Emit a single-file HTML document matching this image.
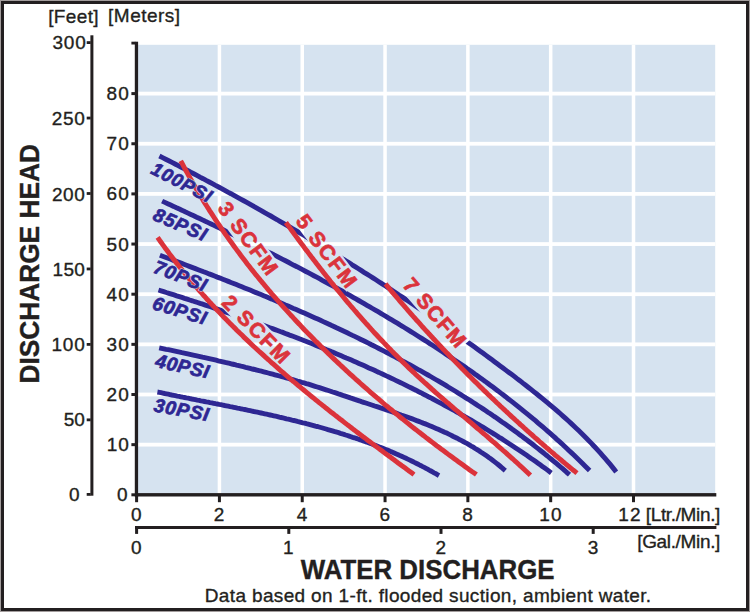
<!DOCTYPE html><html><head><meta charset="utf-8"><style>html,body{margin:0;padding:0;background:#fff}svg{display:block}text{font-family:"Liberation Sans",sans-serif}</style></head><body>
<svg width="750" height="612" viewBox="0 0 750 612">
<rect x="0" y="0" width="750" height="612" fill="#a39d9d"/>
<rect x="1" y="1" width="748" height="610" fill="#231f20"/>
<rect x="4" y="4" width="742" height="604" fill="#fff"/>
<rect x="138" y="44.8" width="577.2" height="449" fill="#d6e3f0"/>
<rect x="217.67" y="44.8" width="3.5" height="449" fill="#fff"/>
<rect x="300.48" y="44.8" width="3.5" height="449" fill="#fff"/>
<rect x="383.30" y="44.8" width="3.5" height="449" fill="#fff"/>
<rect x="466.12" y="44.8" width="3.5" height="449" fill="#fff"/>
<rect x="548.93" y="44.8" width="3.5" height="449" fill="#fff"/>
<rect x="631.75" y="44.8" width="3.5" height="449" fill="#fff"/>
<rect x="138" y="442.75" width="577.2" height="3.8" fill="#fff"/>
<rect x="138" y="392.60" width="577.2" height="3.8" fill="#fff"/>
<rect x="138" y="342.45" width="577.2" height="3.8" fill="#fff"/>
<rect x="138" y="292.30" width="577.2" height="3.8" fill="#fff"/>
<rect x="138" y="242.15" width="577.2" height="3.8" fill="#fff"/>
<rect x="138" y="192.00" width="577.2" height="3.8" fill="#fff"/>
<rect x="138" y="141.85" width="577.2" height="3.8" fill="#fff"/>
<rect x="138" y="91.70" width="577.2" height="3.8" fill="#fff"/>
<defs><mask id="ko" maskUnits="userSpaceOnUse" x="0" y="0" width="750" height="612"><rect x="0" y="0" width="750" height="612" fill="#fff"/>
<rect x="-2.0" y="-17.04" width="88.73" height="21.04" fill="#000" transform="translate(217.02,208.40) rotate(53.53)"/>
<rect x="-2.0" y="-17.04" width="89.46" height="18.54" fill="#000" transform="translate(294.89,221.24) rotate(52.82)"/>
<rect x="-2.0" y="-17.04" width="87.64" height="20.54" fill="#000" transform="translate(401.71,285.61) rotate(49.11)"/>
<rect x="-2.0" y="-17.04" width="89.80" height="19.04" fill="#000" transform="translate(220.83,303.64) rotate(45.37)"/>
</mask></defs>
<g fill="none" stroke-width="4.9" stroke-linecap="butt">
<g mask="url(#ko)">
<path d="M157.4,392.0 L159.2,392.3 L161.0,392.7 L162.8,393.1 L164.6,393.5 L166.4,393.8 L168.2,394.2 L170.0,394.6 L171.8,395.0 L173.6,395.3 L175.4,395.7 L177.2,396.1 L179.1,396.4 L180.9,396.8 L182.7,397.2 L184.5,397.5 L186.3,397.9 L188.1,398.2 L190.0,398.6 L191.8,399.0 L193.6,399.3 L195.4,399.7 L197.2,400.1 L199.1,400.4 L200.9,400.8 L202.7,401.1 L204.5,401.5 L206.3,401.9 L208.2,402.2 L210.0,402.6 L211.8,402.9 L213.6,403.3 L215.5,403.7 L217.3,404.0 L219.1,404.4 L220.9,404.7 L222.8,405.1 L224.6,405.5 L226.4,405.8 L228.2,406.2 L230.1,406.6 L231.9,406.9 L233.7,407.3 L235.5,407.7 L237.4,408.1 L239.2,408.4 L241.0,408.8 L242.9,409.2 L244.7,409.5 L246.5,409.9 L248.3,410.3 L250.2,410.7 L252.0,411.1 L253.8,411.5 L255.6,411.8 L257.4,412.2 L259.3,412.6 L261.1,413.0 L262.9,413.4 L264.7,413.8 L266.6,414.2 L268.4,414.6 L270.2,415.0 L272.0,415.4 L273.8,415.8 L275.6,416.2 L277.5,416.6 L279.3,417.1 L281.1,417.5 L282.9,417.9 L284.7,418.3 L286.5,418.8 L288.3,419.2 L290.2,419.6 L292.0,420.1 L293.8,420.5 L295.6,420.9 L297.4,421.4 L299.2,421.8 L301.0,422.3 L302.8,422.8 L304.6,423.2 L306.4,423.7 L308.2,424.1 L310.0,424.6 L311.8,425.1 L313.6,425.6 L315.4,426.1 L317.2,426.5 L319.0,427.0 L320.8,427.5 L322.6,428.0 L324.3,428.5 L326.1,429.0 L327.9,429.6 L329.7,430.1 L331.5,430.6 L333.3,431.1 L335.0,431.7 L336.8,432.2 L338.6,432.7 L340.4,433.3 L342.1,433.8 L343.9,434.4 L345.7,435.0 L347.4,435.5 L349.2,436.1 L350.9,436.7 L352.7,437.3 L354.5,437.8 L356.2,438.4 L358.0,439.0 L359.7,439.6 L361.5,440.3 L363.2,440.9 L364.9,441.5 L366.7,442.1 L368.4,442.8 L370.2,443.4 L371.9,444.0 L373.6,444.7 L375.4,445.3 L377.1,446.0 L378.8,446.7 L380.5,447.4 L382.3,448.0 L384.0,448.7 L385.7,449.4 L387.4,450.1 L389.1,450.8 L390.8,451.6 L392.5,452.3 L394.2,453.0 L395.9,453.8 L397.6,454.5 L399.3,455.3 L401.0,456.0 L402.7,456.8 L404.4,457.6 L406.0,458.3 L407.7,459.1 L409.4,459.9 L411.1,460.7 L412.7,461.5 L414.4,462.4 L416.1,463.2 L417.7,464.0 L419.4,464.9 L421.0,465.7 L422.7,466.6 L424.3,467.4 L426.0,468.3 L427.6,469.2 L429.2,470.1 L430.9,471.0 L432.5,471.9 L434.1,472.8 L435.8,473.7 L437.4,474.7 L439.0,475.6" stroke="#2e2793"/>
<path d="M159.2,347.8 L161.5,348.3 L163.8,348.8 L166.0,349.3 L168.3,349.7 L170.6,350.2 L172.8,350.7 L175.1,351.2 L177.4,351.7 L179.7,352.2 L181.9,352.7 L184.2,353.1 L186.5,353.6 L188.8,354.1 L191.0,354.6 L193.3,355.1 L195.6,355.6 L197.9,356.1 L200.1,356.6 L202.4,357.2 L204.7,357.7 L207.0,358.2 L209.2,358.7 L211.5,359.2 L213.8,359.7 L216.1,360.2 L218.3,360.8 L220.6,361.3 L222.9,361.8 L225.2,362.4 L227.4,362.9 L229.7,363.4 L232.0,364.0 L234.2,364.5 L236.5,365.1 L238.8,365.6 L241.0,366.2 L243.3,366.7 L245.6,367.3 L247.8,367.8 L250.1,368.4 L252.4,369.0 L254.6,369.5 L256.9,370.1 L259.1,370.7 L261.4,371.2 L263.7,371.8 L265.9,372.4 L268.2,373.0 L270.4,373.6 L272.7,374.2 L274.9,374.8 L277.2,375.4 L279.4,376.0 L281.7,376.6 L283.9,377.2 L286.1,377.8 L288.4,378.5 L290.6,379.1 L292.9,379.7 L295.1,380.3 L297.3,381.0 L299.6,381.6 L301.8,382.3 L304.0,382.9 L306.2,383.6 L308.5,384.2 L310.7,384.9 L312.9,385.6 L315.1,386.3 L317.3,387.0 L319.5,387.7 L321.7,388.4 L323.9,389.1 L326.1,389.8 L328.3,390.5 L330.5,391.2 L332.7,392.0 L334.9,392.7 L337.1,393.4 L339.3,394.2 L341.5,394.9 L343.7,395.7 L345.9,396.4 L348.2,397.1 L350.4,397.9 L352.6,398.6 L354.8,399.4 L357.0,400.1 L359.2,400.8 L361.4,401.6 L363.6,402.3 L365.8,403.0 L368.1,403.8 L370.3,404.5 L372.5,405.2 L374.7,406.0 L376.9,406.7 L379.2,407.4 L381.4,408.2 L383.6,408.9 L385.8,409.6 L388.0,410.4 L390.2,411.1 L392.5,411.9 L394.7,412.7 L396.9,413.4 L399.1,414.2 L401.3,415.0 L403.5,415.7 L405.7,416.5 L407.9,417.3 L410.1,418.1 L412.3,418.9 L414.5,419.7 L416.7,420.6 L418.8,421.4 L421.0,422.2 L423.2,423.1 L425.3,423.9 L427.5,424.8 L429.7,425.7 L431.8,426.6 L434.0,427.5 L436.1,428.4 L438.2,429.3 L440.3,430.3 L442.5,431.2 L444.6,432.2 L446.7,433.1 L448.8,434.1 L450.9,435.1 L452.9,436.2 L455.0,437.2 L457.1,438.2 L459.1,439.3 L461.2,440.4 L463.2,441.5 L465.2,442.6 L467.3,443.7 L469.3,444.9 L471.3,446.1 L473.3,447.2 L475.2,448.5 L477.2,449.7 L479.2,450.9 L481.1,452.2 L483.1,453.5 L485.0,454.8 L486.9,456.1 L488.8,457.5 L490.7,458.8 L492.6,460.2 L494.4,461.6 L496.3,463.1 L498.1,464.5 L499.9,466.0 L501.7,467.5 L503.5,469.1 L505.3,470.6" stroke="#2e2793"/>
<path d="M158.5,290.0 L161.1,290.8 L163.7,291.6 L166.3,292.5 L168.9,293.3 L171.5,294.1 L174.1,294.9 L176.7,295.8 L179.3,296.6 L181.9,297.4 L184.5,298.3 L187.1,299.1 L189.7,300.0 L192.3,300.8 L194.9,301.7 L197.5,302.5 L200.1,303.4 L202.7,304.2 L205.3,305.1 L207.9,305.9 L210.5,306.8 L213.1,307.7 L215.7,308.6 L218.2,309.4 L220.8,310.3 L223.4,311.2 L226.0,312.1 L228.6,313.0 L231.2,313.9 L233.8,314.8 L236.4,315.7 L239.0,316.6 L241.5,317.5 L244.1,318.4 L246.7,319.3 L249.3,320.2 L251.9,321.1 L254.5,322.0 L257.0,323.0 L259.6,323.9 L262.2,324.8 L264.8,325.8 L267.3,326.7 L269.9,327.7 L272.5,328.6 L275.1,329.6 L277.6,330.5 L280.2,331.5 L282.8,332.4 L285.3,333.4 L287.9,334.4 L290.4,335.4 L293.0,336.3 L295.6,337.3 L298.1,338.3 L300.7,339.3 L303.2,340.3 L305.8,341.3 L308.3,342.3 L310.9,343.3 L313.4,344.3 L316.0,345.4 L318.5,346.4 L321.1,347.4 L323.6,348.4 L326.1,349.5 L328.7,350.5 L331.2,351.6 L333.7,352.6 L336.3,353.7 L338.8,354.7 L341.3,355.8 L343.8,356.9 L346.3,358.0 L348.9,359.0 L351.4,360.1 L353.9,361.2 L356.4,362.3 L358.9,363.4 L361.4,364.5 L363.9,365.6 L366.4,366.7 L368.9,367.9 L371.4,369.0 L373.9,370.1 L376.4,371.3 L378.9,372.4 L381.4,373.6 L383.9,374.7 L386.3,375.9 L388.8,377.0 L391.3,378.2 L393.8,379.4 L396.2,380.6 L398.7,381.8 L401.2,382.9 L403.6,384.1 L406.1,385.4 L408.5,386.6 L411.0,387.8 L413.4,389.0 L415.9,390.2 L418.3,391.5 L420.8,392.7 L423.2,394.0 L425.6,395.2 L428.0,396.5 L430.5,397.7 L432.9,399.0 L435.3,400.3 L437.7,401.6 L440.1,402.9 L442.5,404.1 L445.0,405.5 L447.4,406.8 L449.8,408.1 L452.1,409.4 L454.5,410.7 L456.9,412.1 L459.3,413.4 L461.7,414.8 L464.1,416.1 L466.4,417.5 L468.8,418.8 L471.2,420.2 L473.5,421.6 L475.9,423.0 L478.2,424.4 L480.6,425.8 L482.9,427.2 L485.3,428.6 L487.6,430.0 L490.0,431.5 L492.3,432.9 L494.6,434.3 L496.9,435.8 L499.2,437.3 L501.6,438.7 L503.9,440.2 L506.2,441.7 L508.5,443.2 L510.8,444.7 L513.1,446.2 L515.3,447.7 L517.6,449.2 L519.9,450.7 L522.2,452.3 L524.4,453.8 L526.7,455.3 L529.0,456.9 L531.2,458.5 L533.5,460.0 L535.7,461.6 L538.0,463.2 L540.2,464.8 L542.4,466.4 L544.7,468.0 L546.9,469.6 L549.1,471.3 L551.3,472.9" stroke="#2e2793"/>
<path d="M159.9,255.3 L162.6,256.3 L165.3,257.3 L168.1,258.3 L170.8,259.3 L173.5,260.4 L176.3,261.4 L179.0,262.4 L181.7,263.4 L184.5,264.5 L187.2,265.5 L190.0,266.6 L192.7,267.6 L195.4,268.6 L198.2,269.7 L200.9,270.7 L203.6,271.8 L206.4,272.8 L209.1,273.9 L211.8,274.9 L214.6,276.0 L217.3,277.1 L220.1,278.1 L222.8,279.2 L225.5,280.3 L228.3,281.4 L231.0,282.5 L233.7,283.5 L236.4,284.6 L239.2,285.7 L241.9,286.8 L244.6,287.9 L247.4,289.0 L250.1,290.1 L252.8,291.2 L255.5,292.4 L258.3,293.5 L261.0,294.6 L263.7,295.7 L266.4,296.8 L269.1,298.0 L271.9,299.1 L274.6,300.3 L277.3,301.4 L280.0,302.6 L282.7,303.7 L285.4,304.9 L288.1,306.0 L290.8,307.2 L293.5,308.4 L296.2,309.5 L298.9,310.7 L301.6,311.9 L304.3,313.1 L307.0,314.3 L309.7,315.5 L312.4,316.7 L315.1,317.9 L317.8,319.1 L320.5,320.3 L323.2,321.6 L325.8,322.8 L328.5,324.0 L331.2,325.3 L333.9,326.5 L336.5,327.8 L339.2,329.0 L341.9,330.3 L344.5,331.5 L347.2,332.8 L349.8,334.1 L352.5,335.4 L355.2,336.6 L357.8,337.9 L360.4,339.2 L363.1,340.5 L365.7,341.8 L368.4,343.1 L371.0,344.5 L373.6,345.8 L376.3,347.1 L378.9,348.5 L381.5,349.8 L384.1,351.2 L386.7,352.5 L389.3,353.9 L391.9,355.2 L394.6,356.6 L397.2,358.0 L399.7,359.4 L402.3,360.8 L404.9,362.2 L407.5,363.6 L410.1,365.0 L412.7,366.4 L415.2,367.8 L417.8,369.3 L420.4,370.7 L422.9,372.1 L425.5,373.6 L428.0,375.0 L430.6,376.5 L433.1,378.0 L435.7,379.5 L438.2,380.9 L440.7,382.4 L443.3,383.9 L445.8,385.4 L448.3,387.0 L450.8,388.5 L453.3,390.0 L455.8,391.5 L458.3,393.1 L460.8,394.6 L463.3,396.2 L465.8,397.8 L468.3,399.3 L470.8,400.9 L473.2,402.5 L475.7,404.1 L478.1,405.7 L480.6,407.3 L483.0,408.9 L485.5,410.5 L487.9,412.2 L490.4,413.8 L492.8,415.5 L495.2,417.1 L497.6,418.8 L500.0,420.5 L502.4,422.2 L504.8,423.8 L507.2,425.5 L509.6,427.2 L512.0,429.0 L514.4,430.7 L516.8,432.4 L519.1,434.2 L521.5,435.9 L523.8,437.7 L526.2,439.4 L528.5,441.2 L530.9,443.0 L533.2,444.8 L535.5,446.6 L537.8,448.4 L540.1,450.2 L542.4,452.0 L544.7,453.9 L547.0,455.7 L549.3,457.6 L551.6,459.5 L553.8,461.3 L556.1,463.2 L558.4,465.1 L560.6,467.0 L562.9,468.9 L565.1,470.8 L567.3,472.8 L569.5,474.7" stroke="#2e2793"/>
<path d="M162.1,201.1 L164.9,202.4 L167.8,203.8 L170.7,205.1 L173.6,206.4 L176.5,207.8 L179.4,209.1 L182.3,210.4 L185.1,211.8 L188.0,213.1 L190.9,214.5 L193.8,215.8 L196.7,217.2 L199.6,218.5 L202.4,219.9 L205.3,221.3 L208.2,222.6 L211.1,224.0 L214.0,225.4 L216.8,226.7 L219.7,228.1 L222.6,229.5 L225.5,230.9 L228.3,232.3 L231.2,233.7 L234.1,235.1 L236.9,236.5 L239.8,237.9 L242.7,239.3 L245.5,240.7 L248.4,242.1 L251.3,243.5 L254.1,244.9 L257.0,246.4 L259.9,247.8 L262.7,249.2 L265.6,250.7 L268.4,252.1 L271.3,253.5 L274.1,255.0 L277.0,256.4 L279.8,257.9 L282.7,259.4 L285.5,260.8 L288.4,262.3 L291.2,263.8 L294.0,265.3 L296.9,266.7 L299.7,268.2 L302.5,269.7 L305.4,271.2 L308.2,272.7 L311.0,274.2 L313.9,275.7 L316.7,277.2 L319.5,278.7 L322.3,280.3 L325.1,281.8 L327.9,283.3 L330.7,284.9 L333.6,286.4 L336.4,287.9 L339.2,289.5 L342.0,291.0 L344.8,292.6 L347.5,294.2 L350.3,295.7 L353.1,297.3 L355.9,298.9 L358.7,300.5 L361.5,302.1 L364.2,303.7 L367.0,305.3 L369.8,306.9 L372.5,308.5 L375.3,310.1 L378.1,311.7 L380.8,313.3 L383.6,315.0 L386.3,316.6 L389.1,318.3 L391.8,319.9 L394.6,321.6 L397.3,323.2 L400.0,324.9 L402.8,326.5 L405.5,328.2 L408.2,329.9 L410.9,331.6 L413.6,333.3 L416.3,335.0 L419.0,336.7 L421.7,338.4 L424.4,340.1 L427.1,341.8 L429.8,343.6 L432.5,345.3 L435.2,347.0 L437.9,348.8 L440.5,350.5 L443.2,352.3 L445.9,354.1 L448.5,355.9 L451.2,357.6 L453.8,359.4 L456.5,361.2 L459.1,363.0 L461.7,364.8 L464.4,366.6 L467.0,368.5 L469.6,370.3 L472.2,372.1 L474.8,374.0 L477.4,375.8 L480.0,377.7 L482.6,379.6 L485.2,381.4 L487.7,383.3 L490.3,385.2 L492.9,387.1 L495.4,389.0 L498.0,390.9 L500.5,392.9 L503.1,394.8 L505.6,396.7 L508.1,398.7 L510.6,400.6 L513.2,402.6 L515.7,404.6 L518.2,406.6 L520.7,408.6 L523.1,410.6 L525.6,412.6 L528.1,414.6 L530.5,416.6 L533.0,418.7 L535.5,420.7 L537.9,422.8 L540.3,424.8 L542.8,426.9 L545.2,429.0 L547.6,431.1 L550.0,433.2 L552.4,435.3 L554.8,437.4 L557.1,439.6 L559.5,441.7 L561.9,443.8 L564.2,446.0 L566.6,448.2 L568.9,450.4 L571.3,452.6 L573.6,454.8 L575.9,457.0 L578.2,459.2 L580.5,461.4 L582.8,463.7 L585.0,465.9 L587.3,468.2 L589.6,470.5" stroke="#2e2793"/>
<path d="M159.4,156.0 L162.6,157.6 L165.7,159.2 L168.8,160.8 L172.0,162.4 L175.1,164.0 L178.2,165.7 L181.3,167.3 L184.5,168.9 L187.6,170.5 L190.7,172.2 L193.8,173.8 L196.9,175.4 L200.0,177.1 L203.1,178.7 L206.2,180.4 L209.3,182.0 L212.4,183.7 L215.5,185.4 L218.6,187.0 L221.7,188.7 L224.8,190.4 L227.9,192.1 L231.0,193.7 L234.0,195.4 L237.1,197.1 L240.2,198.8 L243.3,200.5 L246.3,202.2 L249.4,203.9 L252.5,205.7 L255.5,207.4 L258.6,209.1 L261.7,210.8 L264.7,212.6 L267.8,214.3 L270.8,216.0 L273.9,217.8 L276.9,219.5 L279.9,221.3 L283.0,223.1 L286.0,224.8 L289.1,226.6 L292.1,228.4 L295.1,230.1 L298.1,231.9 L301.2,233.7 L304.2,235.5 L307.2,237.3 L310.2,239.1 L313.2,240.9 L316.2,242.7 L319.2,244.5 L322.3,246.3 L325.3,248.2 L328.3,250.0 L331.2,251.8 L334.2,253.7 L337.2,255.5 L340.2,257.3 L343.2,259.2 L346.2,261.0 L349.2,262.9 L352.1,264.8 L355.1,266.6 L358.1,268.5 L361.1,270.4 L364.0,272.3 L367.0,274.1 L370.0,276.0 L372.9,277.9 L375.9,279.8 L378.8,281.7 L381.8,283.6 L384.7,285.5 L387.7,287.5 L390.6,289.4 L393.5,291.3 L396.5,293.2 L399.4,295.2 L402.3,297.1 L405.3,299.1 L408.2,301.0 L411.1,303.0 L414.0,304.9 L416.9,306.9 L419.8,308.9 L422.8,310.8 L425.7,312.8 L428.6,314.8 L431.5,316.8 L434.4,318.8 L437.3,320.8 L440.1,322.8 L443.0,324.8 L445.9,326.8 L448.8,328.8 L451.7,330.8 L454.6,332.8 L457.4,334.9 L460.3,336.9 L463.2,338.9 L466.0,341.0 L468.9,343.0 L471.8,345.1 L474.6,347.1 L477.5,349.2 L480.3,351.3 L483.2,353.3 L486.0,355.4 L488.8,357.5 L491.7,359.6 L494.5,361.7 L497.3,363.8 L500.2,365.9 L503.0,368.0 L505.8,370.1 L508.6,372.2 L511.5,374.3 L514.3,376.4 L517.1,378.6 L519.9,380.7 L522.6,382.9 L525.4,385.0 L528.2,387.2 L531.0,389.4 L533.7,391.6 L536.5,393.8 L539.2,396.0 L541.9,398.2 L544.6,400.4 L547.4,402.7 L550.0,404.9 L552.7,407.2 L555.4,409.4 L558.0,411.7 L560.7,414.0 L563.3,416.4 L565.9,418.7 L568.5,421.0 L571.1,423.4 L573.6,425.8 L576.2,428.2 L578.7,430.6 L581.2,433.0 L583.7,435.5 L586.2,438.0 L588.6,440.4 L591.0,442.9 L593.4,445.5 L595.8,448.0 L598.2,450.6 L600.5,453.2 L602.8,455.8 L605.1,458.4 L607.4,461.1 L609.6,463.7 L611.8,466.4 L614.0,469.1 L616.2,471.9" stroke="#2e2793"/>
</g>
<path d="M157.6,237.4 L158.9,239.2 L160.1,241.0 L161.4,242.8 L162.7,244.6 L164.0,246.4 L165.3,248.2 L166.7,250.0 L168.0,251.8 L169.3,253.6 L170.6,255.4 L172.0,257.1 L173.3,258.9 L174.7,260.6 L176.0,262.4 L177.4,264.1 L178.8,265.9 L180.1,267.6 L181.5,269.3 L182.9,271.1 L184.3,272.8 L185.7,274.5 L187.1,276.2 L188.5,277.9 L189.9,279.6 L191.4,281.3 L192.8,283.0 L194.2,284.6 L195.6,286.3 L197.1,288.0 L198.5,289.6 L200.0,291.3 L201.5,293.0 L202.9,294.6 L204.4,296.2 L205.9,297.9 L207.3,299.5 L208.8,301.1 L210.3,302.8 L211.8,304.4 L213.3,306.0 L214.8,307.6 L216.3,309.2 L217.8,310.8 L219.3,312.4 L220.9,314.0 L222.4,315.6 L223.9,317.2 L225.5,318.8 L227.0,320.3 L228.6,321.9 L230.1,323.5 L231.7,325.0 L233.2,326.6 L234.8,328.1 L236.3,329.7 L237.9,331.2 L239.5,332.8 L241.1,334.3 L242.7,335.8 L244.2,337.4 L245.8,338.9 L247.4,340.4 L249.0,341.9 L250.6,343.4 L252.2,345.0 L253.8,346.5 L255.5,348.0 L257.1,349.5 L258.7,351.0 L260.3,352.4 L262.0,353.9 L263.6,355.4 L265.2,356.9 L266.9,358.4 L268.5,359.8 L270.1,361.3 L271.8,362.8 L273.4,364.2 L275.1,365.7 L276.8,367.2 L278.4,368.6 L280.1,370.1 L281.8,371.5 L283.4,372.9 L285.1,374.4 L286.8,375.8 L288.5,377.3 L290.1,378.7 L291.8,380.1 L293.5,381.5 L295.2,383.0 L296.9,384.4 L298.6,385.8 L300.3,387.2 L302.0,388.6 L303.7,390.0 L305.4,391.4 L307.1,392.8 L308.8,394.2 L310.5,395.6 L312.2,397.0 L314.0,398.4 L315.7,399.8 L317.4,401.2 L319.1,402.6 L320.8,403.9 L322.6,405.3 L324.3,406.7 L326.0,408.1 L327.8,409.4 L329.5,410.8 L331.2,412.2 L333.0,413.5 L334.7,414.9 L336.5,416.3 L338.2,417.6 L339.9,419.0 L341.7,420.3 L343.4,421.7 L345.2,423.1 L346.9,424.4 L348.7,425.7 L350.4,427.1 L352.2,428.4 L353.9,429.8 L355.7,431.1 L357.5,432.5 L359.2,433.8 L361.0,435.1 L362.7,436.5 L364.5,437.8 L366.3,439.1 L368.0,440.5 L369.8,441.8 L371.6,443.1 L373.3,444.4 L375.1,445.8 L376.9,447.1 L378.6,448.4 L380.4,449.7 L382.2,451.0 L383.9,452.4 L385.7,453.7 L387.5,455.0 L389.2,456.3 L391.0,457.6 L392.8,458.9 L394.6,460.3 L396.3,461.6 L398.1,462.9 L399.9,464.2 L401.6,465.5 L403.4,466.8 L405.2,468.1 L407.0,469.4 L408.7,470.7 L410.5,472.0 L412.3,473.3 L414.0,474.6" stroke="#db333b"/>
<path d="M180.7,160.8 L182.0,163.2 L183.3,165.6 L184.6,168.1 L185.9,170.5 L187.2,172.9 L188.5,175.3 L189.9,177.7 L191.2,180.1 L192.6,182.5 L194.0,184.9 L195.3,187.2 L196.7,189.6 L198.1,192.0 L199.5,194.3 L200.9,196.7 L202.4,199.0 L203.8,201.4 L205.2,203.7 L206.7,206.0 L208.2,208.3 L209.6,210.6 L211.1,212.9 L212.6,215.2 L214.1,217.5 L215.6,219.8 L217.1,222.1 L218.7,224.4 L220.2,226.6 L221.7,228.9 L223.3,231.1 L224.8,233.4 L226.4,235.6 L228.0,237.8 L229.6,240.1 L231.2,242.3 L232.8,244.5 L234.4,246.7 L236.0,248.9 L237.6,251.1 L239.3,253.3 L240.9,255.5 L242.6,257.7 L244.2,259.8 L245.9,262.0 L247.5,264.2 L249.2,266.3 L250.9,268.5 L252.6,270.6 L254.3,272.7 L256.0,274.9 L257.8,277.0 L259.5,279.1 L261.2,281.2 L263.0,283.3 L264.7,285.4 L266.5,287.5 L268.2,289.6 L270.0,291.7 L271.8,293.8 L273.6,295.8 L275.4,297.9 L277.2,300.0 L279.0,302.0 L280.8,304.1 L282.6,306.1 L284.4,308.1 L286.3,310.2 L288.1,312.2 L289.9,314.2 L291.8,316.2 L293.6,318.2 L295.5,320.2 L297.4,322.2 L299.3,324.2 L301.1,326.2 L303.0,328.2 L304.9,330.2 L306.8,332.1 L308.7,334.1 L310.7,336.1 L312.6,338.0 L314.5,340.0 L316.4,341.9 L318.4,343.8 L320.3,345.8 L322.3,347.7 L324.2,349.6 L326.2,351.5 L328.2,353.4 L330.1,355.3 L332.1,357.2 L334.1,359.1 L336.1,361.0 L338.1,362.9 L340.1,364.8 L342.1,366.6 L344.1,368.5 L346.1,370.4 L348.1,372.2 L350.1,374.1 L352.2,375.9 L354.2,377.8 L356.2,379.6 L358.3,381.4 L360.3,383.3 L362.4,385.1 L364.4,386.9 L366.5,388.7 L368.6,390.5 L370.6,392.3 L372.7,394.1 L374.8,395.9 L376.9,397.7 L379.0,399.4 L381.0,401.2 L383.1,403.0 L385.2,404.8 L387.3,406.5 L389.5,408.3 L391.6,410.0 L393.7,411.8 L395.8,413.5 L397.9,415.2 L400.0,417.0 L402.2,418.7 L404.3,420.4 L406.4,422.1 L408.6,423.8 L410.7,425.6 L412.9,427.3 L415.0,429.0 L417.2,430.6 L419.3,432.3 L421.5,434.0 L423.7,435.7 L425.8,437.4 L428.0,439.0 L430.2,440.7 L432.4,442.4 L434.5,444.0 L436.7,445.7 L438.9,447.3 L441.1,449.0 L443.3,450.6 L445.5,452.2 L447.7,453.9 L449.9,455.5 L452.1,457.1 L454.3,458.7 L456.5,460.3 L458.7,461.9 L460.9,463.5 L463.1,465.1 L465.3,466.7 L467.5,468.3 L469.7,469.9 L471.9,471.5 L474.2,473.0 L476.4,474.6" stroke="#db333b"/>
<path d="M285.9,222.5 L287.2,224.3 L288.6,226.1 L289.9,227.9 L291.2,229.7 L292.5,231.5 L293.8,233.3 L295.1,235.1 L296.4,236.9 L297.8,238.7 L299.1,240.5 L300.4,242.2 L301.7,244.0 L303.1,245.8 L304.4,247.6 L305.7,249.4 L307.1,251.1 L308.4,252.9 L309.8,254.7 L311.1,256.5 L312.5,258.2 L313.8,260.0 L315.2,261.7 L316.5,263.5 L317.9,265.3 L319.2,267.0 L320.6,268.8 L322.0,270.5 L323.3,272.3 L324.7,274.0 L326.1,275.8 L327.5,277.5 L328.9,279.2 L330.2,281.0 L331.6,282.7 L333.0,284.4 L334.4,286.2 L335.8,287.9 L337.2,289.6 L338.6,291.3 L340.0,293.0 L341.5,294.8 L342.9,296.5 L344.3,298.2 L345.7,299.9 L347.1,301.6 L348.6,303.3 L350.0,305.0 L351.4,306.7 L352.9,308.3 L354.3,310.0 L355.8,311.7 L357.2,313.4 L358.7,315.1 L360.1,316.7 L361.6,318.4 L363.1,320.1 L364.5,321.7 L366.0,323.4 L367.5,325.0 L369.0,326.7 L370.5,328.3 L371.9,330.0 L373.4,331.6 L374.9,333.2 L376.4,334.8 L378.0,336.5 L379.5,338.1 L381.0,339.7 L382.5,341.3 L384.0,342.9 L385.6,344.5 L387.1,346.1 L388.6,347.7 L390.2,349.3 L391.7,350.9 L393.3,352.5 L394.8,354.1 L396.4,355.6 L398.0,357.2 L399.5,358.8 L401.1,360.3 L402.7,361.9 L404.3,363.4 L405.9,365.0 L407.4,366.5 L409.0,368.1 L410.7,369.6 L412.3,371.1 L413.9,372.6 L415.5,374.2 L417.1,375.7 L418.7,377.2 L420.4,378.7 L422.0,380.2 L423.7,381.7 L425.3,383.2 L427.0,384.7 L428.6,386.1 L430.3,387.6 L431.9,389.1 L433.6,390.6 L435.2,392.1 L436.9,393.5 L438.6,395.0 L440.3,396.5 L441.9,397.9 L443.6,399.4 L445.3,400.8 L447.0,402.3 L448.7,403.7 L450.3,405.2 L452.0,406.6 L453.7,408.1 L455.4,409.5 L457.1,411.0 L458.8,412.4 L460.5,413.9 L462.2,415.3 L463.9,416.7 L465.6,418.2 L467.3,419.6 L469.0,421.1 L470.6,422.5 L472.3,423.9 L474.0,425.4 L475.7,426.8 L477.4,428.3 L479.1,429.7 L480.8,431.1 L482.5,432.6 L484.2,434.0 L485.9,435.5 L487.6,436.9 L489.2,438.4 L490.9,439.8 L492.6,441.3 L494.3,442.7 L496.0,444.2 L497.6,445.6 L499.3,447.1 L501.0,448.5 L502.6,450.0 L504.3,451.5 L506.0,452.9 L507.6,454.4 L509.3,455.9 L510.9,457.3 L512.6,458.8 L514.2,460.3 L515.9,461.8 L517.5,463.3 L519.1,464.8 L520.8,466.3 L522.4,467.8 L524.0,469.3 L525.6,470.8 L527.2,472.3 L528.8,473.8 L530.4,475.3" stroke="#db333b"/>
<path d="M385.5,283.9 L386.6,285.2 L387.7,286.6 L388.8,287.9 L389.9,289.2 L390.9,290.5 L392.0,291.8 L393.1,293.1 L394.2,294.4 L395.3,295.6 L396.4,296.9 L397.5,298.2 L398.6,299.5 L399.7,300.8 L400.8,302.1 L401.9,303.4 L403.0,304.7 L404.1,305.9 L405.2,307.2 L406.3,308.5 L407.5,309.8 L408.6,311.1 L409.7,312.3 L410.8,313.6 L411.9,314.9 L413.0,316.2 L414.2,317.4 L415.3,318.7 L416.4,320.0 L417.6,321.2 L418.7,322.5 L419.8,323.7 L421.0,325.0 L422.1,326.3 L423.2,327.5 L424.4,328.8 L425.5,330.0 L426.6,331.3 L427.8,332.5 L428.9,333.8 L430.1,335.0 L431.2,336.3 L432.4,337.5 L433.5,338.8 L434.7,340.0 L435.8,341.3 L437.0,342.5 L438.2,343.7 L439.3,345.0 L440.5,346.2 L441.6,347.4 L442.8,348.7 L444.0,349.9 L445.1,351.1 L446.3,352.4 L447.5,353.6 L448.7,354.8 L449.8,356.0 L451.0,357.3 L452.2,358.5 L453.4,359.7 L454.5,360.9 L455.7,362.1 L456.9,363.4 L458.1,364.6 L459.3,365.8 L460.5,367.0 L461.7,368.2 L462.9,369.4 L464.0,370.6 L465.2,371.8 L466.4,373.0 L467.6,374.2 L468.8,375.4 L470.0,376.6 L471.2,377.8 L472.4,379.0 L473.6,380.2 L474.8,381.4 L476.1,382.6 L477.3,383.8 L478.5,385.0 L479.7,386.2 L480.9,387.4 L482.1,388.5 L483.3,389.7 L484.5,390.9 L485.8,392.1 L487.0,393.3 L488.2,394.5 L489.4,395.6 L490.6,396.8 L491.9,398.0 L493.1,399.1 L494.3,400.3 L495.6,401.5 L496.8,402.7 L498.0,403.8 L499.3,405.0 L500.5,406.2 L501.7,407.3 L503.0,408.5 L504.2,409.6 L505.4,410.8 L506.7,411.9 L507.9,413.1 L509.2,414.3 L510.4,415.4 L511.7,416.6 L512.9,417.7 L514.2,418.8 L515.4,420.0 L516.7,421.1 L517.9,422.3 L519.2,423.4 L520.4,424.6 L521.7,425.7 L523.0,426.8 L524.2,428.0 L525.5,429.1 L526.7,430.2 L528.0,431.4 L529.3,432.5 L530.5,433.6 L531.8,434.7 L533.1,435.9 L534.3,437.0 L535.6,438.1 L536.9,439.2 L538.2,440.4 L539.4,441.5 L540.7,442.6 L542.0,443.7 L543.3,444.8 L544.6,445.9 L545.8,447.0 L547.1,448.1 L548.4,449.2 L549.7,450.4 L551.0,451.5 L552.3,452.6 L553.6,453.7 L554.8,454.8 L556.1,455.9 L557.4,456.9 L558.7,458.0 L560.0,459.1 L561.3,460.2 L562.6,461.3 L563.9,462.4 L565.2,463.5 L566.5,464.6 L567.8,465.7 L569.1,466.7 L570.4,467.8 L571.7,468.9 L573.0,470.0 L574.4,471.0 L575.7,472.1 L577.0,473.2" stroke="#db333b"/>
</g>
<text x="0" y="0" transform="translate(149.77,172.99) rotate(27.31)" font-size="18.5" letter-spacing="0.94" font-weight="bold" font-style="italic" fill="#2e2793" stroke="#d6e3f0" stroke-width="1.6" stroke-linejoin="round">100PSI</text>
<text x="0" y="0" transform="translate(149.77,172.99) rotate(27.31)" font-size="18.5" letter-spacing="0.94" font-weight="bold" font-style="italic" fill="#2e2793" stroke="#2e2793" stroke-width="0.7">100PSI</text>
<text x="0" y="0" transform="translate(151.68,219.39) rotate(23.01)" font-size="19" letter-spacing="1.07" font-weight="bold" font-style="italic" fill="#2e2793" stroke="#d6e3f0" stroke-width="1.6" stroke-linejoin="round">85PSI</text>
<text x="0" y="0" transform="translate(151.68,219.39) rotate(23.01)" font-size="19" letter-spacing="1.07" font-weight="bold" font-style="italic" fill="#2e2793" stroke="#2e2793" stroke-width="0.7">85PSI</text>
<text x="0" y="0" transform="translate(152.36,272.23) rotate(20.93)" font-size="19" letter-spacing="0.83" font-weight="bold" font-style="italic" fill="#2e2793" stroke="#d6e3f0" stroke-width="1.6" stroke-linejoin="round">70PSI</text>
<text x="0" y="0" transform="translate(152.36,272.23) rotate(20.93)" font-size="19" letter-spacing="0.83" font-weight="bold" font-style="italic" fill="#2e2793" stroke="#2e2793" stroke-width="0.7">70PSI</text>
<text x="0" y="0" transform="translate(151.27,308.65) rotate(17.05)" font-size="19" letter-spacing="0.85" font-weight="bold" font-style="italic" fill="#2e2793" stroke="#d6e3f0" stroke-width="1.6" stroke-linejoin="round">60PSI</text>
<text x="0" y="0" transform="translate(151.27,308.65) rotate(17.05)" font-size="19" letter-spacing="0.85" font-weight="bold" font-style="italic" fill="#2e2793" stroke="#2e2793" stroke-width="0.7">60PSI</text>
<text x="0" y="0" transform="translate(154.57,366.82) rotate(12.34)" font-size="19" letter-spacing="0.57" font-weight="bold" font-style="italic" fill="#2e2793" stroke="#d6e3f0" stroke-width="1.6" stroke-linejoin="round">40PSI</text>
<text x="0" y="0" transform="translate(154.57,366.82) rotate(12.34)" font-size="19" letter-spacing="0.57" font-weight="bold" font-style="italic" fill="#2e2793" stroke="#2e2793" stroke-width="0.7">40PSI</text>
<text x="0" y="0" transform="translate(153.05,411.16) rotate(10.49)" font-size="19" letter-spacing="0.90" font-weight="bold" font-style="italic" fill="#2e2793" stroke="#d6e3f0" stroke-width="1.6" stroke-linejoin="round">30PSI</text>
<text x="0" y="0" transform="translate(153.05,411.16) rotate(10.49)" font-size="19" letter-spacing="0.90" font-weight="bold" font-style="italic" fill="#2e2793" stroke="#2e2793" stroke-width="0.7">30PSI</text>
<text x="0" y="0" transform="translate(217.02,208.40) rotate(53.53)" font-size="21" letter-spacing="1.54" font-weight="bold" fill="#db333b" stroke="#d6e3f0" stroke-width="1.6" stroke-linejoin="round">3&#160;SCFM</text>
<text x="0" y="0" transform="translate(217.02,208.40) rotate(53.53)" font-size="21" letter-spacing="1.54" font-weight="bold" fill="#db333b" stroke="#db333b" stroke-width="0.7">3&#160;SCFM</text>
<text x="0" y="0" transform="translate(294.89,221.24) rotate(52.82)" font-size="21" letter-spacing="1.69" font-weight="bold" fill="#db333b" stroke="#d6e3f0" stroke-width="1.6" stroke-linejoin="round">5&#160;SCFM</text>
<text x="0" y="0" transform="translate(294.89,221.24) rotate(52.82)" font-size="21" letter-spacing="1.69" font-weight="bold" fill="#db333b" stroke="#db333b" stroke-width="0.7">5&#160;SCFM</text>
<text x="0" y="0" transform="translate(401.71,285.61) rotate(49.11)" font-size="21" letter-spacing="1.33" font-weight="bold" fill="#db333b" stroke="#d6e3f0" stroke-width="1.6" stroke-linejoin="round">7&#160;SCFM</text>
<text x="0" y="0" transform="translate(401.71,285.61) rotate(49.11)" font-size="21" letter-spacing="1.33" font-weight="bold" fill="#db333b" stroke="#db333b" stroke-width="0.7">7&#160;SCFM</text>
<text x="0" y="0" transform="translate(220.83,303.64) rotate(45.37)" font-size="21" letter-spacing="1.76" font-weight="bold" fill="#db333b" stroke="#d6e3f0" stroke-width="1.6" stroke-linejoin="round">2&#160;SCFM</text>
<text x="0" y="0" transform="translate(220.83,303.64) rotate(45.37)" font-size="21" letter-spacing="1.76" font-weight="bold" fill="#db333b" stroke="#db333b" stroke-width="0.7">2&#160;SCFM</text>
<rect x="134.8" y="41.7" width="3.3" height="455" fill="#231f20"/>
<rect x="131.4" y="493.30" width="4" height="3" fill="#231f20"/>
<rect x="131.4" y="443.15" width="4" height="3" fill="#231f20"/>
<rect x="131.4" y="393.00" width="4" height="3" fill="#231f20"/>
<rect x="131.4" y="342.85" width="4" height="3" fill="#231f20"/>
<rect x="131.4" y="292.70" width="4" height="3" fill="#231f20"/>
<rect x="131.4" y="242.55" width="4" height="3" fill="#231f20"/>
<rect x="131.4" y="192.40" width="4" height="3" fill="#231f20"/>
<rect x="131.4" y="142.25" width="4" height="3" fill="#231f20"/>
<rect x="131.4" y="92.10" width="4" height="3" fill="#231f20"/>
<rect x="131.4" y="41.7" width="4" height="2.8" fill="#231f20"/>
<rect x="90.4" y="35.3" width="3.0" height="460.4" fill="#231f20"/>
<rect x="86.7" y="493.00" width="4" height="2.8" fill="#231f20"/>
<rect x="86.7" y="418.45" width="4" height="2.8" fill="#231f20"/>
<rect x="86.7" y="343.00" width="4" height="2.8" fill="#231f20"/>
<rect x="86.7" y="267.55" width="4" height="2.8" fill="#231f20"/>
<rect x="86.7" y="192.10" width="4" height="2.8" fill="#231f20"/>
<rect x="86.7" y="116.65" width="4" height="2.8" fill="#231f20"/>
<rect x="86.7" y="41.20" width="4" height="2.8" fill="#231f20"/>
<rect x="135" y="493.1" width="581.3" height="3.4" fill="#231f20"/>
<rect x="135.10" y="495" width="3" height="7.2" fill="#231f20"/>
<rect x="217.92" y="495" width="3" height="7.2" fill="#231f20"/>
<rect x="300.73" y="495" width="3" height="7.2" fill="#231f20"/>
<rect x="383.55" y="495" width="3" height="7.2" fill="#231f20"/>
<rect x="466.37" y="495" width="3" height="7.2" fill="#231f20"/>
<rect x="549.18" y="495" width="3" height="7.2" fill="#231f20"/>
<rect x="632.00" y="495" width="3" height="7.2" fill="#231f20"/>
<rect x="135" y="526" width="581.4" height="3" fill="#231f20"/>
<rect x="135.10" y="527" width="3" height="6.9" fill="#231f20"/>
<rect x="287.30" y="527" width="3" height="6.9" fill="#231f20"/>
<rect x="439.50" y="527" width="3" height="6.9" fill="#231f20"/>
<rect x="591.70" y="527" width="3" height="6.9" fill="#231f20"/>
<text x="0" y="0" transform="translate(48.20,22.50) scale(1.0000,1)" font-size="19" font-weight="normal" letter-spacing="0.36" fill="#231f20" stroke="#231f20" stroke-width="0.35">[Feet]</text>
<text x="0" y="0" transform="translate(108.10,21.70) scale(1.0000,1)" font-size="19" font-weight="normal" letter-spacing="0.46" fill="#231f20" stroke="#231f20" stroke-width="0.35">[Meters]</text>
<text x="0" y="0" transform="translate(52.50,49.05) scale(1.0000,1)" font-size="19" font-weight="normal" letter-spacing="0.75" fill="#231f20" stroke="#231f20" stroke-width="0.35">300</text>
<text x="0" y="0" transform="translate(51.80,124.65) scale(1.0000,1)" font-size="19" font-weight="normal" letter-spacing="0.65" fill="#231f20" stroke="#231f20" stroke-width="0.35">250</text>
<text x="0" y="0" transform="translate(51.90,200.95) scale(1.0000,1)" font-size="19" font-weight="normal" letter-spacing="0.65" fill="#231f20" stroke="#231f20" stroke-width="0.35">200</text>
<text x="0" y="0" transform="translate(52.60,275.65) scale(1.0000,1)" font-size="19" font-weight="normal" letter-spacing="0.30" fill="#231f20" stroke="#231f20" stroke-width="0.35">150</text>
<text x="0" y="0" transform="translate(51.40,350.85) scale(1.0000,1)" font-size="19" font-weight="normal" letter-spacing="0.90" fill="#231f20" stroke="#231f20" stroke-width="0.35">100</text>
<text x="0" y="0" transform="translate(63.70,426.25) scale(1.0000,1)" font-size="19" font-weight="normal" letter-spacing="0.10" fill="#231f20" stroke="#231f20" stroke-width="0.35">50</text>
<text x="0" y="0" transform="translate(68.90,501.25) scale(1.0000,1)" font-size="19" font-weight="normal" letter-spacing="0.00" fill="#231f20" stroke="#231f20" stroke-width="0.35">0</text>
<text x="0" y="0" transform="translate(117.05,501.25) scale(1.0000,1)" font-size="19" font-weight="normal" letter-spacing="0.00" fill="#231f20" stroke="#231f20" stroke-width="0.35">0</text>
<text x="0" y="0" transform="translate(106.65,451.10) scale(1.0000,1)" font-size="19" font-weight="normal" letter-spacing="1.15" fill="#231f20" stroke="#231f20" stroke-width="0.35">10</text>
<text x="0" y="0" transform="translate(106.62,400.95) scale(1.0000,1)" font-size="19" font-weight="normal" letter-spacing="1.18" fill="#231f20" stroke="#231f20" stroke-width="0.35">20</text>
<text x="0" y="0" transform="translate(106.61,350.80) scale(1.0000,1)" font-size="19" font-weight="normal" letter-spacing="1.19" fill="#231f20" stroke="#231f20" stroke-width="0.35">30</text>
<text x="0" y="0" transform="translate(106.59,300.65) scale(1.0000,1)" font-size="19" font-weight="normal" letter-spacing="1.21" fill="#231f20" stroke="#231f20" stroke-width="0.35">40</text>
<text x="0" y="0" transform="translate(106.61,250.50) scale(1.0000,1)" font-size="19" font-weight="normal" letter-spacing="1.19" fill="#231f20" stroke="#231f20" stroke-width="0.35">50</text>
<text x="0" y="0" transform="translate(106.62,200.35) scale(1.0000,1)" font-size="19" font-weight="normal" letter-spacing="1.18" fill="#231f20" stroke="#231f20" stroke-width="0.35">60</text>
<text x="0" y="0" transform="translate(106.62,150.20) scale(1.0000,1)" font-size="19" font-weight="normal" letter-spacing="1.18" fill="#231f20" stroke="#231f20" stroke-width="0.35">70</text>
<text x="0" y="0" transform="translate(106.62,100.05) scale(1.0000,1)" font-size="19" font-weight="normal" letter-spacing="1.18" fill="#231f20" stroke="#231f20" stroke-width="0.35">80</text>
<text x="0" y="0" transform="translate(131.02,521.40) scale(1.0000,1)" font-size="19" font-weight="normal" letter-spacing="0.00" fill="#231f20" stroke="#231f20" stroke-width="0.35">0</text>
<text x="0" y="0" transform="translate(213.85,521.40) scale(1.0000,1)" font-size="19" font-weight="normal" letter-spacing="0.00" fill="#231f20" stroke="#231f20" stroke-width="0.35">2</text>
<text x="0" y="0" transform="translate(296.69,521.40) scale(1.0000,1)" font-size="19" font-weight="normal" letter-spacing="0.00" fill="#231f20" stroke="#231f20" stroke-width="0.35">4</text>
<text x="0" y="0" transform="translate(379.43,521.40) scale(1.0000,1)" font-size="19" font-weight="normal" letter-spacing="0.00" fill="#231f20" stroke="#231f20" stroke-width="0.35">6</text>
<text x="0" y="0" transform="translate(462.30,521.40) scale(1.0000,1)" font-size="19" font-weight="normal" letter-spacing="0.00" fill="#231f20" stroke="#231f20" stroke-width="0.35">8</text>
<text x="0" y="0" transform="translate(539.16,521.40) scale(1.0000,1)" font-size="19" font-weight="normal" letter-spacing="1.15" fill="#231f20" stroke="#231f20" stroke-width="0.35">10</text>
<text x="0" y="0" transform="translate(618.28,521.40) scale(1.0000,1)" font-size="19" font-weight="normal" letter-spacing="1.13" fill="#231f20" stroke="#231f20" stroke-width="0.35">12</text>
<text x="0" y="0" transform="translate(645.80,520.50) scale(1.0000,1)" font-size="19" font-weight="normal" letter-spacing="-0.36" fill="#231f20" stroke="#231f20" stroke-width="0.35">[Ltr./Min.]</text>
<text x="0" y="0" transform="translate(131.02,553.90) scale(1.0000,1)" font-size="19" font-weight="normal" letter-spacing="0.00" fill="#231f20" stroke="#231f20" stroke-width="0.35">0</text>
<text x="0" y="0" transform="translate(283.00,553.90) scale(1.0000,1)" font-size="19" font-weight="normal" letter-spacing="0.00" fill="#231f20" stroke="#231f20" stroke-width="0.35">1</text>
<text x="0" y="0" transform="translate(435.44,553.90) scale(1.0000,1)" font-size="19" font-weight="normal" letter-spacing="0.00" fill="#231f20" stroke="#231f20" stroke-width="0.35">2</text>
<text x="0" y="0" transform="translate(587.68,553.90) scale(1.0000,1)" font-size="19" font-weight="normal" letter-spacing="0.00" fill="#231f20" stroke="#231f20" stroke-width="0.35">3</text>
<text x="0" y="0" transform="translate(637.20,547.70) scale(1.0000,1)" font-size="19" font-weight="normal" letter-spacing="-0.34" fill="#231f20" stroke="#231f20" stroke-width="0.35">[Gal./Min.]</text>
<text x="0" y="0" transform="translate(38.60,383.54) rotate(-90) scale(0.9665,1)" font-size="27.2" font-weight="bold" letter-spacing="0.00" fill="#231f20" stroke="#231f20" stroke-width="0.35">DISCHARGE&#160;HEAD</text>
<text x="0" y="0" transform="translate(300.70,578.70) scale(0.9515,1)" font-size="27.2" font-weight="bold" letter-spacing="0.00" fill="#231f20" stroke="#231f20" stroke-width="0.35">WATER&#160;DISCHARGE</text>
<text x="0" y="0" transform="translate(204.80,601.50) scale(1.0000,1)" font-size="19" font-weight="normal" letter-spacing="0.35" fill="#231f20" stroke="#231f20" stroke-width="0.35">Data&#160;based&#160;on&#160;1-ft.&#160;flooded&#160;suction,&#160;ambient&#160;water.</text>
</svg></body></html>
